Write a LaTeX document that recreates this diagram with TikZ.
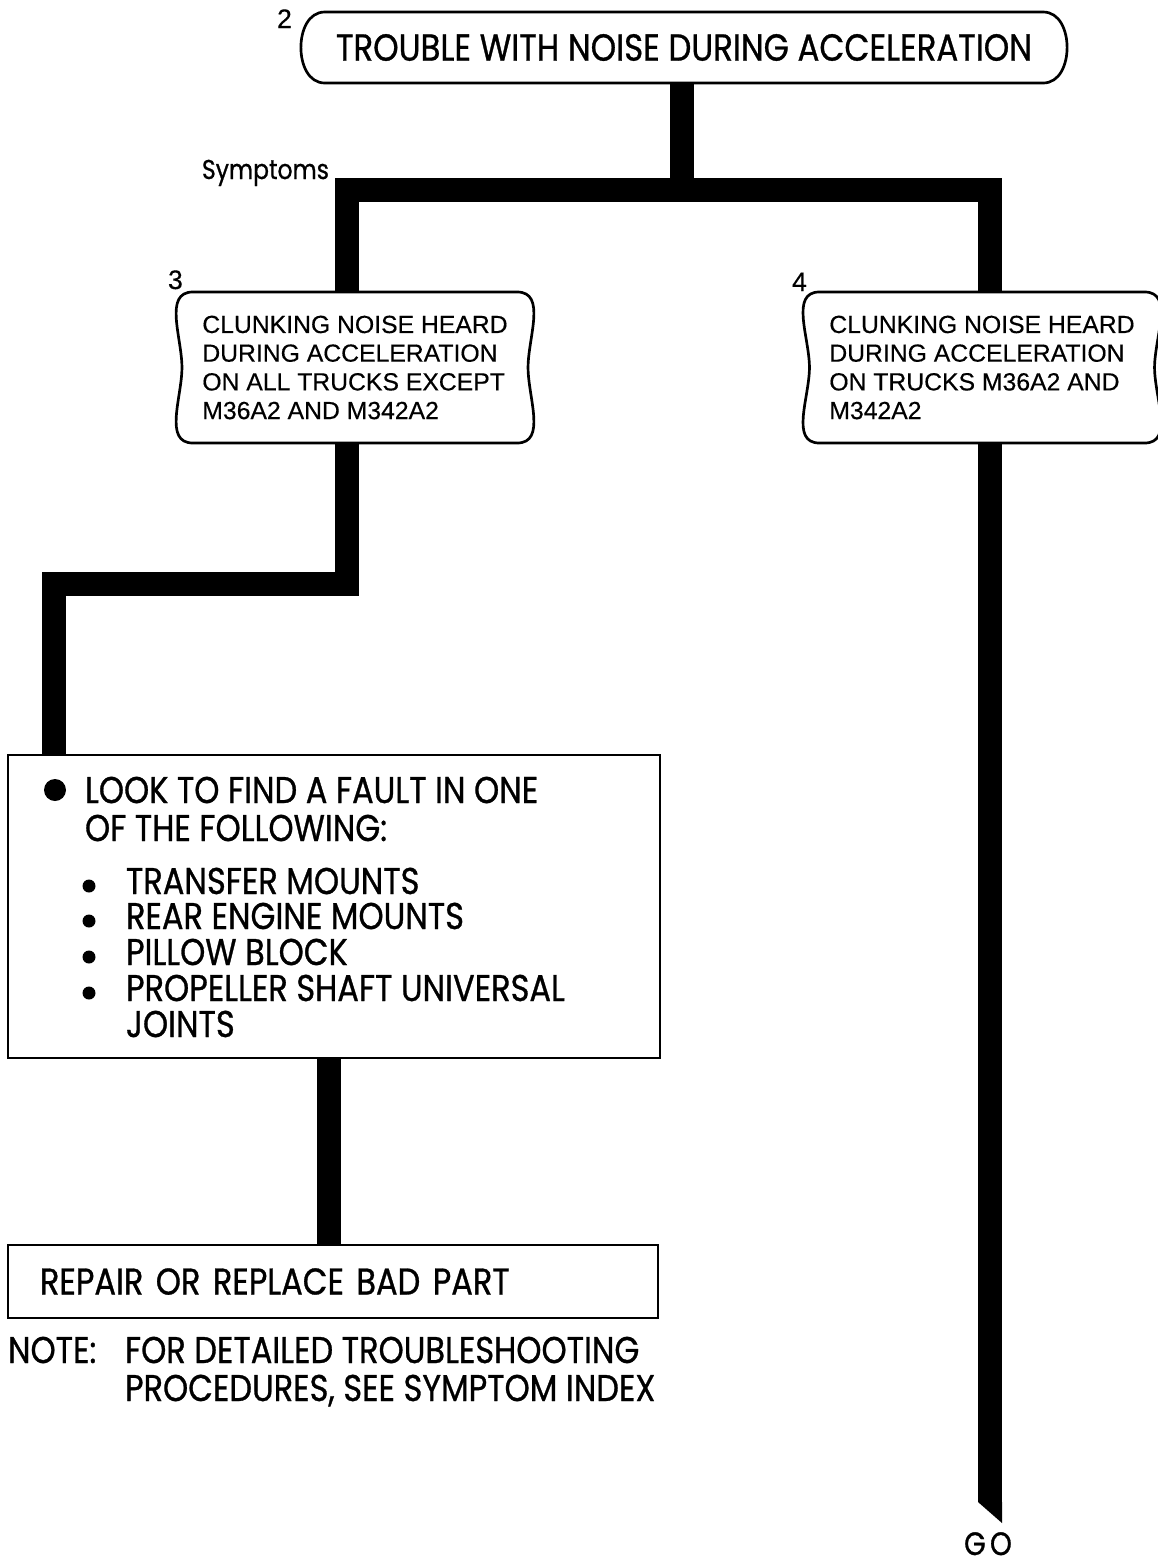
\documentclass[tikz,border=0pt]{standalone}
\usepackage{fontspec}
\setmainfont[FakeStretch=0.86, FakeBold=0.8]{Poppins}
\newfontfamily\helv[FakeBold=0.4]{Liberation Sans}
\newcommand{\bulgeoutline}[2]{%
  \draw[outline] (#1.north west) -- (#1.north east)
    to[out=0,in=90] ([xshift=#2]#1.east) to[out=-90,in=0] (#1.south east)
    -- (#1.south west) to[out=180,in=-90] ([xshift=-#2]#1.west)
    to[out=90,in=180] cycle;}
\begin{document}
\begin{tikzpicture}[x=0.025cm,y=-0.025cm,
  every node/.style={inner sep=0pt, outer sep=0pt},
  outline/.style={line width=1.9pt},
  pipe/.style={line width=0.6cm},
  plainbox/.style={draw, line width=1.9pt},
  bubble/.style={minimum height=3.775cm, align=left, font=\helv\fontsize{17.6}{20.4}\selectfont},
  caps/.style={font=\fontsize{26.5}{32}\selectfont, anchor=base west},
  num/.style={font=\helv\fontsize{19}{22}\selectfont, anchor=base west}]
\useasboundingbox (0,0) rectangle (1158,1566);

% boxes
\node[minimum width=17.95cm, minimum height=1.775cm, font=\fontsize{26.8}{32}\selectfont] (trouble) at (684,47.5) {TROUBLE WITH NOISE DURING ACCELERATION};
\bulgeoutline{trouble}{0.6cm}
\node[num] (num2) at (277,28) {2};

\node[bubble, minimum width=8.1cm] (clunkA) at (355,367.5) {CLUNKING NOISE HEARD\\DURING ACCELERATION\\ON ALL TRUCKS EXCEPT\\M36A2 AND M342A2};
\bulgeoutline{clunkA}{0.275cm}
\node[num] (num3) at (168,289) {3};

\node[bubble, minimum width=8.125cm] (clunkB) at (982,367.5) {CLUNKING NOISE HEARD\\DURING ACCELERATION\\ON TRUCKS M36A2 AND\\M342A2};
\bulgeoutline{clunkB}{0.25cm}
\node[num] (num4) at (792,291) {4};

\node[plainbox, minimum width=16.3cm, minimum height=7.575cm] (fault) at (334,906.5) {};
\fill (55,790) circle (11);
\node[caps] (look) at (85,803) {LOOK TO FIND A FAULT IN ONE};
\node[caps] (following) at (85,841) {OF THE FOLLOWING:};
\foreach \y in {886,921,957,993} \fill (89,\y) circle (6.5);
\node[caps] (transfer) at (126,894) {TRANSFER MOUNTS};
\node[caps] (engine) at (126,929) {REAR ENGINE MOUNTS};
\node[caps] (pillow) at (126,965) {PILLOW BLOCK};
\node[caps] (shaft) at (126,1001) {PROPELLER SHAFT UNIVERSAL};
\node[caps] (joints) at (126,1037) {JOINTS};

\node[plainbox, minimum width=16.25cm, minimum height=1.825cm, text width=14.65cm, align=left, font=\fontsize{26.5}{32}\selectfont] (repair) at (333,1281.5) {REPAIR OR REPLACE BAD PART};

\node[caps] (note) at (8,1363) {NOTE:};
\node[caps] (notea) at (125,1363) {FOR DETAILED TROUBLESHOOTING};
\node[caps] (noteb) at (125,1401) {PROCEDURES, SEE SYMPTOM INDEX};

\node[anchor=base west, font=\fontsize{19.4}{24}\selectfont] (symptoms) at (202,179) {Symptoms};
\node[anchor=base, font=\fontsize{23}{26}\selectfont] (go) at (988,1555) {G\hspace{3pt}O};

% connectors
\coordinate (split) at (682,190);
\coordinate (lcorner) at (347,190);
\coordinate (rcorner) at (990,190);
\coordinate (jog) at (54,584);
\coordinate (goend) at (990,1502);
\draw[pipe] (trouble.south -| split) -- (split);
\draw[pipe] (lcorner |- clunkA.north) -- (lcorner) -- (rcorner) -- (rcorner |- clunkB.north);
\draw[pipe] (lcorner |- clunkA.south) |- (jog) -- (jog |- fault.north);
\draw[pipe] ([xshift=-0.125cm]fault.south) -- ([xshift=-0.125cm]fault.south |- repair.north);
\draw[pipe] (goend |- clunkB.south) -- (goend);
\fill (978,1502) -- (1002,1502) -- (1002,1523) -- cycle;
\end{tikzpicture}
\end{document}
